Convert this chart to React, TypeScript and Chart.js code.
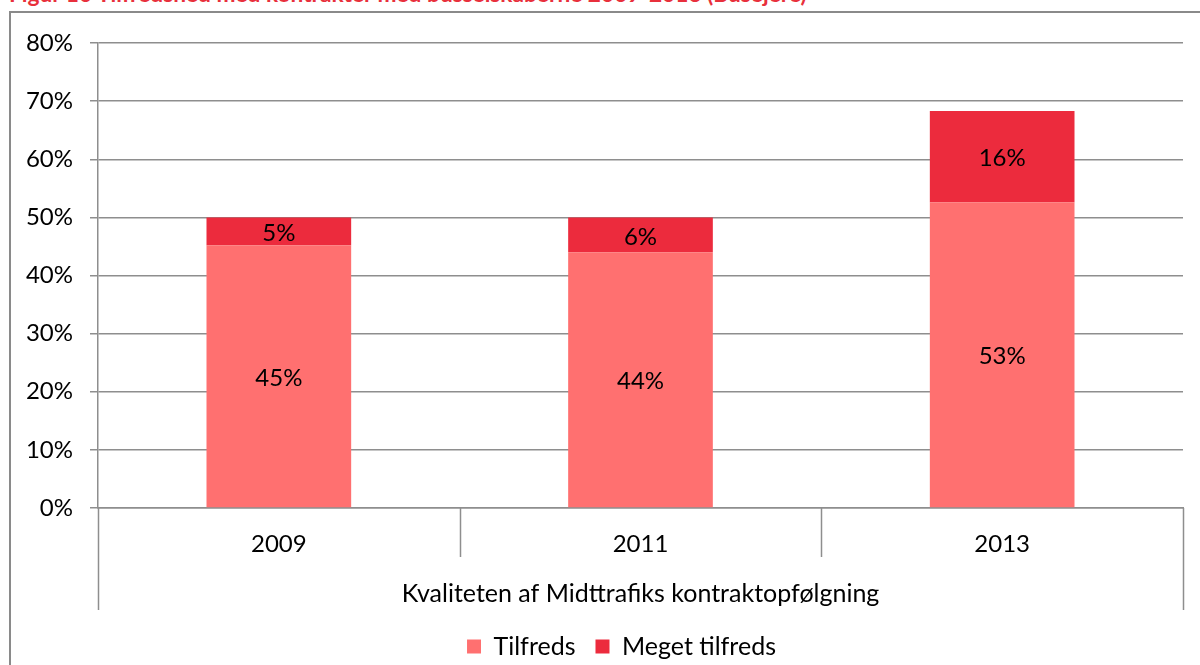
import React, { useEffect, useRef } from "react";
import { Chart, registerables } from "chart.js";

Chart.register(...registerables);

const categories = ["2009", "2011", "2013"];
const tilfreds = [45.2, 44.0, 52.6];
const megetTilfreds = [4.8, 6.0, 15.7];
const yTicks = [0, 10, 20, 30, 40, 50, 60, 70, 80];
const groupLabel = "Kvaliteten af Midttrafiks kontraktopfølgning";
const titleText = "Figur 10 Tilfredshed med kontrakter med busselskaberne 2009-2013 (Busejere)";

const FONT = "Lato, 'Open Sans', sans-serif";
const GRID = "#8e8e8e";

const dataLabels = {
  id: "dataLabels",
  afterDatasetsDraw(chart: any) {
    const ctx = chart.ctx;
    ctx.save();
    ctx.font = `24px ${FONT}`;
    ctx.fillStyle = "#000";
    ctx.textAlign = "center";
    ctx.textBaseline = "middle";
    chart.data.datasets.forEach((ds: any, di: number) => {
      const meta = chart.getDatasetMeta(di);
      meta.data.forEach((el: any, i: number) => {
        const v = ds.data[i];
        const y = (el.y + el.base) / 2;
        ctx.fillText(Math.round(v) + "%", el.x, y + 2);
      });
    });
    ctx.restore();
  },
};

const axisLines = {
  id: "axisLines",
  afterDraw(chart: any) {
    const ctx = chart.ctx;
    const xs = chart.scales.x;
    const area = chart.chartArea;
    const n = categories.length;
    ctx.save();
    ctx.strokeStyle = GRID;
    ctx.lineWidth = 1.5;
    for (let i = 0; i <= n; i++) {
      const left = xs.getPixelForValue(0);
      const right = xs.getPixelForValue(n - 1);
      const step = n > 1 ? (right - left) / (n - 1) : 0;
      const x = Math.round(left + (i - 0.5) * step) + 0.5;
      const outer = i === 0 || i === n;
      ctx.beginPath();
      ctx.moveTo(x, area.bottom);
      ctx.lineTo(x, area.bottom + (outer ? 102 : 49));
      ctx.stroke();
    }
    ctx.restore();
  },
};

const legendShift = {
  id: "legendShift",
  afterLayout(chart: any) {
    const lg = chart.legend;
    if (!lg) return;
    lg.left += 25;
    lg.right += 25;
    lg.top += 4;
    lg.bottom += 4;
  },
};

export default function App() {
  const ref = useRef<HTMLCanvasElement | null>(null);
  useEffect(() => {
    if (!ref.current) return;
    const chart = new Chart(ref.current, {
      type: "bar",
      data: {
        labels: categories,
        datasets: [
          {
            label: "Tilfreds",
            data: tilfreds,
            backgroundColor: "#FF7070",
            barPercentage: 0.4,
            categoryPercentage: 1,
          },
          {
            label: "Meget tilfreds",
            data: megetTilfreds,
            backgroundColor: "#EC2B3D",
            barPercentage: 0.4,
            categoryPercentage: 1,
          },
        ],
      },
      options: {
        animation: false,
        responsive: false,
        maintainAspectRatio: false,
        layout: { padding: { left: 10, right: 17, top: 43, bottom: 0 } },
        scales: {
          x: {
            stacked: true,
            grid: { display: false, drawTicks: false },
            border: { display: true, color: GRID, width: 1.5 },
            ticks: { color: "#000", font: { family: FONT, size: 24 }, padding: 22 },
            title: {
              display: true,
              text: groupLabel,
              color: "#000",
              font: { family: FONT, size: 25 },
              padding: { top: 10, bottom: 1 },
            },
            afterFit(scale: any) {
              scale.height = 102;
            },
          },
          y: {
            stacked: true,
            min: 0,
            max: 80,
            afterBuildTicks(scale: any) {
              scale.ticks = yTicks.map((v) => ({ value: v }));
            },
            grid: { color: GRID, lineWidth: 1.5, tickLength: 8, drawTicks: true },
            border: { display: true, color: GRID, width: 1.5 },
            ticks: {
              color: "#000",
              font: { family: FONT, size: 24 },
              padding: 17,
              callback: (v: any) => v + "%",
            },
            afterFit(scale: any) {
              scale.width = 88;
            },
          },
        },
        plugins: {
          legend: {
            position: "bottom",
            labels: {
              color: "#000",
              font: { family: FONT, size: 25 },
              boxWidth: 14,
              boxHeight: 14,
              padding: 20,
            },
          },
          tooltip: { enabled: false },
        },
      },
      plugins: [dataLabels, axisLines, legendShift],
    });
    return () => chart.destroy();
  }, []);

  return (
    <div
      style={{
        position: "fixed",
        left: 0,
        top: 0,
        width: 1200,
        height: 665,
        overflow: "hidden",
        background: "#fff",
      }}
    >
      <div
        style={{
          position: "absolute",
          left: 9,
          top: -17,
          whiteSpace: "nowrap",
          fontFamily: FONT,
          fontWeight: "bold",
          fontSize: 22.7,
          color: "#E8303C",
          lineHeight: "22px",
        }}
      >
        {titleText}
      </div>
      <div
        style={{
          position: "absolute",
          left: 9,
          top: 11,
          width: 1220,
          height: 700,
          border: "2px solid #8a8a8a",
          boxSizing: "border-box",
        }}
      />
      <canvas
        ref={ref}
        width={1200}
        height={665}
        style={{ position: "absolute", left: 0, top: 0, width: 1200, height: 665 }}
      />
    </div>
  );
}
